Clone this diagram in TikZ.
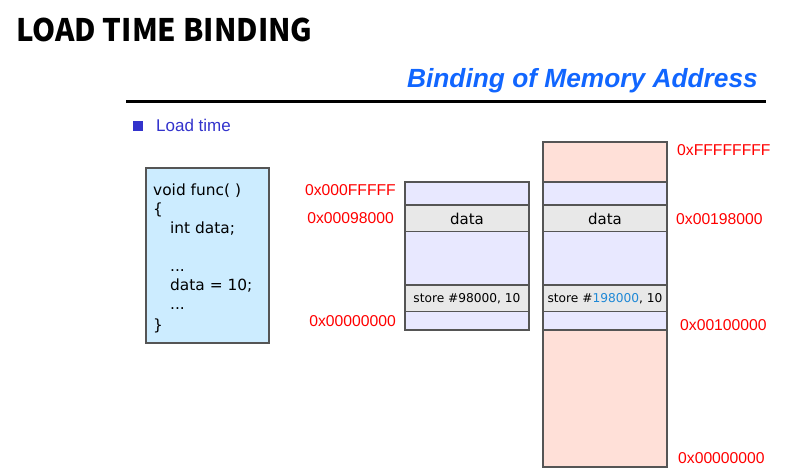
\documentclass[tikz,border=0pt]{standalone}
\usepackage{fontspec}
\setmainfont{Liberation Sans}
\newfontfamily\titlefont{Noto Sans CJK KR}[FakeStretch=0.95]
\newfontfamily\codefont{DejaVu Sans}
\definecolor{headblue}{RGB}{17,102,255}
\definecolor{bulletblue}{RGB}{51,51,204}
\definecolor{codefill}{RGB}{204,236,255}
\definecolor{pinkfill}{RGB}{255,224,216}
\definecolor{lavfill}{RGB}{232,232,255}
\definecolor{grayfill}{RGB}{232,232,232}
\definecolor{edgegray}{RGB}{85,85,85}
\definecolor{addrred}{RGB}{255,0,0}
\definecolor{numblue}{RGB}{30,136,214}
\tikzset{
  cell/.style={draw=edgegray, line width=1.2pt},
  addr/.style={text=addrred, font=\fontsize{15.7}{18}\selectfont, inner sep=0pt},
  codeline/.style={anchor=base west, inner sep=0pt, font=\codefont\fontsize{15.4}{17}\selectfont},
  celltext/.style={inner sep=0pt, font=\codefont\fontsize{15}{18}\selectfont},
  smalltext/.style={inner sep=0pt, font=\codefont\fontsize{12.2}{14}\selectfont}
}
\begin{document}
\begin{tikzpicture}[x=1pt,y=-1pt]
\useasboundingbox (0,0) rectangle (786,473);

% page heading
\node[anchor=base west, inner sep=0pt, font=\titlefont\bfseries\fontsize{31}{36}\selectfont] (title) at (16,42) {LOAD TIME BINDING};
\node[anchor=base east, inner sep=0pt, text=headblue, font=\bfseries\itshape\fontsize{26.3}{30}\selectfont] (subtitle) at (758,88) {Binding of Memory Address};
\draw[line width=3.5pt] (126,101.5) -- (766,101.5);

% bullet
\fill[bulletblue] (133,121) rectangle (143,131);
\node[anchor=base west, inner sep=0pt, text=bulletblue, font=\fontsize{17}{20}\selectfont] (bullet) at (156,132) {Load time};

% source code box
\draw[cell, fill=codefill] (146,168) rectangle (269,343);
\node[codeline] (c1) at (153,195) {void func( )};
\node[codeline] (c2) at (153,214) {\{};
\node[codeline] (c3) at (170,233) {int data;};
\node[codeline] (c4) at (170,271) {...};
\node[codeline] (c5) at (170,290) {data = 10;};
\node[codeline] (c6) at (170,309) {...};
\node[codeline] (c7) at (153,330) {\}};

% logical image (left)
\draw[cell, fill=lavfill] (405,182) rectangle (529,205);
\draw[cell, fill=grayfill] (405,205) rectangle (529,231.5);
\draw[cell, fill=lavfill] (405,231.5) rectangle (529,285);
\draw[cell, fill=grayfill] (405,285) rectangle (529,311.5);
\draw[cell, fill=lavfill] (405,311.5) rectangle (529,330);
\node[celltext] (ldata) at (467,218.5) {data};
\node[smalltext] (lstore) at (467,298.5) {store \#98000, 10};

\node[addr, anchor=east] (la1) at (396,190) {0x000FFFFF};
\node[addr, anchor=east] (la2) at (394,218) {0x00098000};
\node[addr, anchor=east] (la3) at (396,321) {0x00000000};

% physical memory (right)
\draw[cell, fill=pinkfill] (543,142) rectangle (667,182);
\draw[cell, fill=lavfill] (543,182) rectangle (667,205);
\draw[cell, fill=grayfill] (543,205) rectangle (667,231.5);
\draw[cell, fill=lavfill] (543,231.5) rectangle (667,285);
\draw[cell, fill=grayfill] (543,285) rectangle (667,311.5);
\draw[cell, fill=lavfill] (543,311.5) rectangle (667,330);
\draw[cell, fill=pinkfill] (543,330) rectangle (667,467);
\node[celltext] (rdata) at (605,218.5) {data};
\node[smalltext] (rstore) at (605,298.5) {store \#\textcolor{numblue}{198000}, 10};

\node[addr, anchor=west] (ra1) at (677,150) {0xFFFFFFFF};
\node[addr, anchor=west] (ra2) at (676,219) {0x00198000};
\node[addr, anchor=west] (ra3) at (680,325) {0x00100000};
\node[addr, anchor=west] (ra4) at (678,458) {0x00000000};
\end{tikzpicture}
\end{document}
